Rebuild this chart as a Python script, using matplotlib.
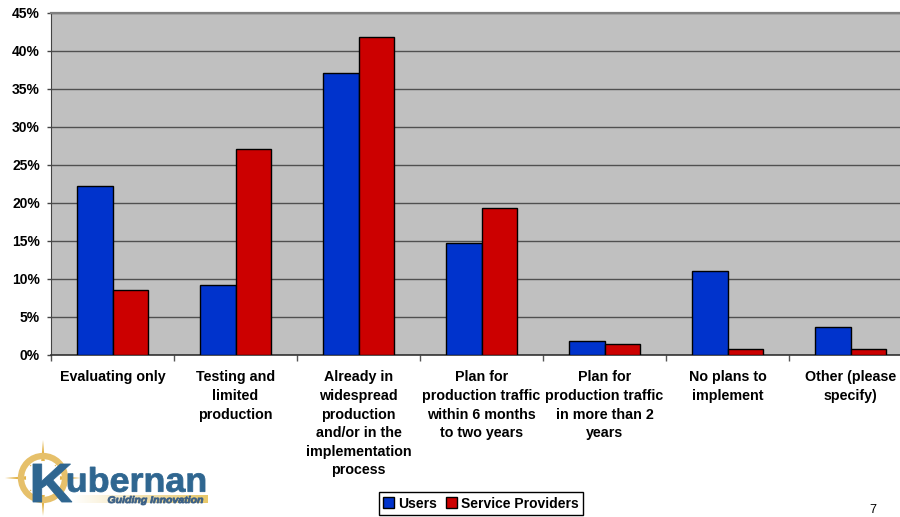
import numpy as np
import matplotlib
matplotlib.use("Agg")
import matplotlib.pyplot as plt
import matplotlib.transforms as mtransforms
from matplotlib.font_manager import FontProperties
from matplotlib.patches import PathPatch, Polygon, Circle, Patch
from matplotlib.textpath import TextPath

categories = [
    "Evaluating only",
    "Testing and\nlimited\nproduction",
    "Already in\nwidespread\nproduction\nand/or in the\nimplementation\nprocess",
    "Plan for\nproduction traffic\nwithin 6 months\nto two years",
    "Plan for\nproduction traffic\nin more than 2\nyears",
    "No plans to\nimplement",
    "Other (please\nspecify)",
]
users = [22.2, 9.2, 37.1, 14.8, 1.8, 11.1, 3.7]
providers = [8.5, 27.1, 41.9, 19.4, 1.5, 0.8, 0.8]
series_names = ["Users", "Service Providers"]
yticks = list(range(0, 50, 5))

blue = "#0033CC"
red = "#CC0000"
plot_bg = "#C0C0C0"
logo_blue = "#2F6690"
logo_gold = "#E2B44C"

plt.rcParams["font.family"] = ["Liberation Sans", "DejaVu Sans"]
plt.rcParams["font.weight"] = "bold"

W, H = 900, 517
fig = plt.figure(figsize=(W / 100, H / 100), dpi=100)
fig.patch.set_facecolor("white")

# plot area runs slightly past the right edge of the page
ax = fig.add_axes([51 / W, 1 - 355 / H, 861 / W, 342 / H])
ax.set_facecolor(plot_bg)

x = np.arange(len(categories))
bw = 0.287
ax.bar(x - bw / 2, users, bw, color=blue, edgecolor="black", linewidth=1.0, zorder=3)
ax.bar(x + bw / 2, providers, bw, color=red, edgecolor="black", linewidth=1.0, zorder=3)

ax.set_xlim(-0.5, len(categories) - 0.5)
ax.set_ylim(0, 45)
ax.set_yticks(yticks)
ax.set_yticklabels([f"{v}%" for v in yticks], fontsize=10, fontweight="bold")
ax.yaxis.grid(True, color="#505050", linewidth=1.0, zorder=1)
ax.set_axisbelow(True)

# category boundaries get tick marks, centres get the labels
ax.set_xticks(np.arange(len(categories) + 1) - 0.5)
ax.set_xticklabels([])
ax.set_xticks(x, minor=True)
ax.set_xticklabels(categories, minor=True, fontsize=10.3, fontweight="bold",
                   linespacing=1.42, va="top")
ax.tick_params(axis="x", which="major", direction="out", length=4, color="#555555", width=1)
ax.tick_params(axis="x", which="minor", length=0, pad=11)
ax.tick_params(axis="y", direction="out", length=3, color="#444444", width=1, pad=5)

ax.spines["right"].set_visible(False)
ax.spines["top"].set_color("#7f7f7f")
ax.spines["top"].set_linewidth(1.6)
ax.spines["left"].set_color("#444444")
ax.spines["bottom"].set_color("#333333")
ax.spines["bottom"].set_linewidth(1.2)

handles = [Patch(facecolor=blue, edgecolor="black", linewidth=1),
           Patch(facecolor=red, edgecolor="black", linewidth=1)]
leg = fig.legend(handles, series_names, loc="center", ncol=2,
                 bbox_to_anchor=(481 / W, 1 - 503.5 / H),
                 prop={"size": 10, "weight": "bold"},
                 handlelength=0.8, handleheight=0.8, handletextpad=0.3,
                 columnspacing=0.6, borderpad=0.3, fancybox=False, framealpha=1)
leg.get_frame().set_edgecolor("black")
leg.get_frame().set_linewidth(1.0)

fig.text(873 / W, 1 - 516 / H, "7", ha="center", va="bottom", fontsize=9, fontweight="normal")

# company logo, drawn in pixel units of its own box
lax = fig.add_axes([0, 0, 220 / W, 82 / H])
lax.axis("off")


def fitted_text(axis, s, x0, y0, w, h, color, prop):
    tp = TextPath((0, 0), s, size=10, prop=prop)
    bb = tp.get_extents()
    tr = (mtransforms.Affine2D().translate(-bb.x0, -bb.y0)
          .scale(w / bb.width, h / bb.height).translate(x0, y0))
    axis.add_patch(PathPatch(tr.transform_path(tp), facecolor=color, edgecolor=color,
                             linewidth=0.6, zorder=5))


cx, cy = 43, 39
pts = []
for k in range(16):
    ang = np.pi / 2 - k * np.pi / 8
    if k % 4 == 0:
        r = 38
    elif k % 2 == 0:
        r = 20
    else:
        r = 7
    pts.append((cx + r * np.cos(ang), cy + r * np.sin(ang)))
lax.add_patch(Polygon(pts, closed=True, facecolor=logo_gold, edgecolor="none", zorder=2))
lax.add_patch(Circle((cx, cy), 22, facecolor="none", edgecolor="#E6C06A", linewidth=4.5, zorder=3))
lax.add_patch(Circle((cx, cy), 17, facecolor="white", edgecolor="none", zorder=3))

grad = np.linspace(0, 1, 256)[None, :]
bar_cmap = matplotlib.colors.LinearSegmentedColormap.from_list("bar", ["white", "#E8C86A"])
lax.imshow(grad, cmap=bar_cmap, extent=(72, 208, 14, 22), aspect="auto", zorder=4)
lax.set_xlim(0, 220)
lax.set_ylim(0, 82)

bold_prop = FontProperties(family="Liberation Sans", weight="bold")
ital_prop = FontProperties(family="Liberation Sans", weight="bold", style="italic")
fitted_text(lax, "K", 33, 15, 39, 38, logo_blue, bold_prop)
fitted_text(lax, "ubernan", 68, 25, 137, 25, logo_blue, bold_prop)
fitted_text(lax, "Guiding Innovation", 108, 12, 95, 9, "#3A5F86", ital_prop)

fig.savefig("out.png", dpi=100)
